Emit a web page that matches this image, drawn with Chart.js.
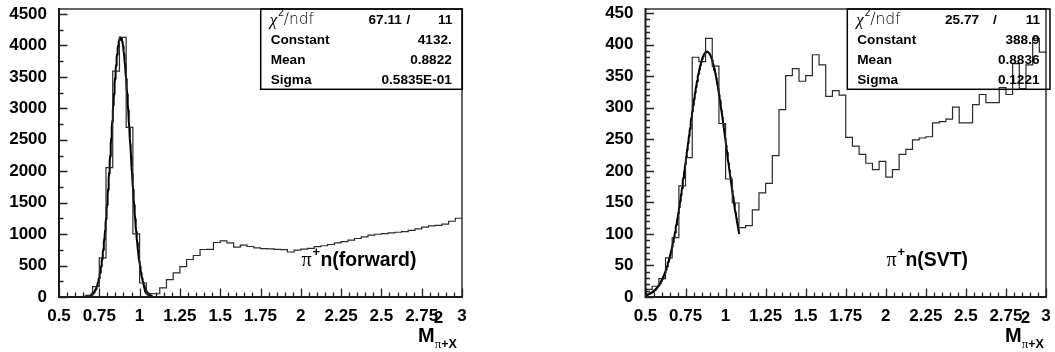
<!DOCTYPE html>
<html>
<head>
<meta charset="utf-8">
<script src="https://cdn.jsdelivr.net/npm/chart.js@4.4.1/dist/chart.umd.min.js"></script>
<style>
  html, body { margin: 0; padding: 0; background: #fff; }
  #wrap { position: relative; width: 1055px; height: 352px; }
  canvas { position: absolute; top: 0; }
</style>
</head>
<body>
<div id="wrap">
  <canvas id="cForward" width="527" height="352" style="left:0;width:527px;height:352px"></canvas>
  <canvas id="cSVT" width="528" height="352" style="left:527px;width:528px;height:352px"></canvas>
</div>
<script>
// Histogram binning (missing mass squared, GeV^2)
const xMin = 0.5, xMax = 3.0, nBins = 60;
const xTickValues = [0.5, 0.75, 1, 1.25, 1.5, 1.75, 2, 2.25, 2.5, 2.75, 3];
const yTicksForward = [0, 500, 1000, 1500, 2000, 2500, 3000, 3500, 4000, 4500];
const yTicksSVT = [0, 50, 100, 150, 200, 250, 300, 350, 400, 450];

// Counts per bin, pi+ n (forward)
const countsForward = [
  0, 0, 0, 3, 25, 165, 622, 2059, 3591, 4130,
  2697, 1005, 223, 55, 52, 144, 277, 383, 484, 596,
  660, 755, 758, 867, 894, 862, 793, 825, 803, 782,
  770, 765, 758, 752, 716, 745, 760, 772, 800, 815,
  835, 860, 880, 905, 930, 955, 985, 998, 1008, 1020,
  1030, 1040, 1058, 1082, 1112, 1130, 1140, 1160, 1205, 1252
];

// Counts per bin, pi+ n (SVT)
const countsSVT = [
  12, 17, 29, 62, 94, 176, 221, 380, 373, 410,
  366, 275, 187, 149, 110, 113, 138, 165, 180, 224,
  297, 351, 362, 342, 351, 384, 368, 318, 327, 320,
  253, 239, 226, 212, 202, 215, 190, 202, 226, 234,
  249, 252, 254, 276, 278, 282, 301, 276, 276, 305,
  321, 308, 308, 332, 321, 370, 330, 368, 410, 388
];

// Gaussian fit results: [chi2, ndf, constant, mean, sigma]
const fitForward = [67.11, 11, 4132, 0.8822, 0.05835];
const fitSVT = [25.77, 11, 388.9, 0.8836, 0.1221];
// Fit ranges
const fitRangeForward = [0.65, 1.08];
const fitRangeSVT = [0.5, 1.085];

// Stats box text
const statsForward = [['Constant', '4132.'], ['Mean', '0.8822'], ['Sigma', '0.5835E-01']];
const statsSVT = [['Constant', '388.9'], ['Mean', '0.8836'], ['Sigma', '0.1221']];

const SANS = '"Liberation Sans", Arial, Helvetica, sans-serif';
const SERIF = '"Liberation Serif", "DejaVu Serif", serif';

function histPoints(counts) {
  const w = (xMax - xMin) / nBins;
  const pts = counts.map((c, i) => ({ x: xMin + i * w, y: c }));
  pts.push({ x: xMax, y: counts[counts.length - 1] });
  return pts;
}

function gaussPoints(fit, range) {
  const [, , c, m, s] = fit;
  const pts = [];
  const n = 200;
  for (let k = 0; k <= n; k++) {
    const x = range[0] + (range[1] - range[0]) * k / n;
    pts.push({ x, y: c * Math.exp(-0.5 * ((x - m) / s) ** 2) });
  }
  return pts;
}

function makePanel(id, o) {
  const framePlugin = {
    id: 'rootFrame',
    afterDraw(chart) {
      const ctx = chart.ctx;
      const a = chart.chartArea;
      const xs = chart.scales.x, ys = chart.scales.y;
      ctx.save();
      // frame
      ctx.strokeStyle = '#333';
      ctx.lineWidth = 1.5;
      ctx.beginPath();
      ctx.moveTo(a.left, a.top); ctx.lineTo(a.right, a.top); ctx.lineTo(a.right, a.bottom);
      ctx.stroke();
      ctx.strokeStyle = '#1a1a1a';
      ctx.lineWidth = 2;
      ctx.beginPath();
      ctx.moveTo(a.left, a.top - 1); ctx.lineTo(a.left, a.bottom); ctx.lineTo(a.right + 1, a.bottom);
      ctx.stroke();

      // x ticks pointing up into the frame
      ctx.lineWidth = 1.3;
      ctx.strokeStyle = '#222';
      ctx.beginPath();
      for (let v = xMin; v <= xMax + 1e-9; v += 0.05) {
        const major = Math.abs(v / 0.25 - Math.round(v / 0.25)) < 1e-6;
        const px = Math.round(xs.getPixelForValue(v)) + 0.5;
        ctx.moveTo(px, a.bottom);
        ctx.lineTo(px, a.bottom - (major ? 8.5 : 4.5));
      }
      // y ticks pointing right
      for (let v = 0; v <= ys.max + 1e-9; v += o.yMinor) {
        const major = Math.abs(v / o.yMajor - Math.round(v / o.yMajor)) < 1e-6;
        const py = Math.round(ys.getPixelForValue(v)) + 0.5;
        ctx.moveTo(a.left, py);
        ctx.lineTo(a.left + (major ? 8.5 : 4.5), py);
      }
      ctx.stroke();

      // stats box
      const bx0 = o.box[0], bx1 = o.box[1], by0 = a.top, by1 = o.box[2];
      ctx.strokeStyle = '#000';
      ctx.lineWidth = 1.5;
      ctx.strokeRect(bx0, by0, bx1 - bx0, by1 - by0);

      ctx.fillStyle = '#000';
      ctx.textBaseline = 'alphabetic';
      const rowBase = [24, 44, 64, 84];
      // chi2/ndf row
      ctx.textAlign = 'left';
      ctx.font = 'italic 17px ' + SERIF;
      ctx.fillText('\u03c7', bx0 + 9, rowBase[0] + 1);
      ctx.font = '10px ' + SANS;
      ctx.fillText('2', bx0 + 17.5, rowBase[0] - 8);
      ctx.font = '300 15.5px "DejaVu Sans", ' + SANS;
      ctx.fillText('/ndf', bx0 + 23, rowBase[0]);
      ctx.font = 'bold 13.6px ' + SANS;
      ctx.textAlign = 'right';
      ctx.fillText(o.fit[0].toFixed(2), bx1 - o.chiPos[0], rowBase[0]);
      ctx.textAlign = 'center';
      ctx.fillText('/', bx1 - o.chiPos[1], rowBase[0]);
      ctx.textAlign = 'right';
      ctx.fillText(String(o.fit[1]), bx1 - 10, rowBase[0]);
      o.stats.forEach((r, i) => {
        ctx.textAlign = 'left';
        ctx.fillText(r[0], bx0 + 10, rowBase[i + 1]);
        ctx.textAlign = 'right';
        ctx.fillText(r[1], bx1 - 10.5, rowBase[i + 1]);
      });

      // channel label
      ctx.textAlign = 'left';
      let lx = o.label[0];
      const lb = 266;
      ctx.font = '20px ' + SERIF;
      ctx.fillText('\u03c0', lx, lb);
      ctx.font = 'bold 13px ' + SANS;
      ctx.fillText('+', lx + 11, lb - 10);
      ctx.font = 'bold 19.4px ' + SANS;
      ctx.fillText(o.label[1], lx + 19, lb);

      // axis title M^2_{pi+X}
      const mx = a.right - o.titleDx;
      ctx.font = 'bold 20px ' + SANS;
      ctx.fillText('M', mx, 342);
      const mw = ctx.measureText('M').width;
      ctx.font = 'bold 17px ' + SANS;
      ctx.fillText('2', mx + mw - 1, 323);
      ctx.font = '13px ' + SERIF;
      ctx.fillText('\u03c0', mx + mw, 348);
      const pw = ctx.measureText('\u03c0').width;
      ctx.font = 'bold 12.5px ' + SANS;
      ctx.fillText('+X', mx + mw + pw, 348);
      ctx.restore();
    }
  };

  return new Chart(document.getElementById(id), {
    type: 'line',
    data: {
      datasets: [
        {
          data: histPoints(o.counts),
          stepped: true,
          borderColor: '#2a2a2a',
          borderWidth: 1.2,
          pointRadius: 0,
          fill: false
        },
        {
          data: gaussPoints(o.fit, o.range),
          borderColor: '#000',
          borderWidth: 2,
          pointRadius: 0,
          fill: false,
          tension: 0
        }
      ]
    },
    options: {
      responsive: false,
      animation: false,
      events: [],
      layout: { autoPadding: false, padding: { top: 9, right: o.padRight, left: 0, bottom: 0 } },
      plugins: { legend: { display: false }, tooltip: { enabled: false } },
      scales: {
        x: {
          type: 'linear',
          min: xMin,
          max: xMax,
          grid: { display: false, drawTicks: false },
          border: { display: false },
          afterBuildTicks: s => { s.ticks = xTickValues.map(v => ({ value: v })); },
          afterFit: s => { s.height = 55; s.paddingLeft = 0; s.paddingRight = 0; },
          ticks: {
            padding: 9,
            color: '#000',
            maxRotation: 0,
            autoSkip: false,
            font: { family: SANS, size: 17, weight: 'bold' },
            callback: v => String(v)
          }
        },
        y: {
          type: 'linear',
          min: 0,
          max: o.yMax,
          grid: { display: false, drawTicks: false },
          border: { display: false },
          afterBuildTicks: s => { s.ticks = o.yTicks.map(v => ({ value: v })); },
          afterFit: s => { s.width = o.yWidth; s.paddingTop = 0; s.paddingBottom = 0; },
          ticks: {
            padding: 12,
            color: '#000',
            autoSkip: false,
            font: { family: SANS, size: 17, weight: 'bold' },
            callback: v => String(v)
          }
        }
      }
    },
    plugins: [framePlugin]
  });
}

makePanel('cForward', {
  counts: countsForward, fit: fitForward, range: fitRangeForward, stats: statsForward,
  yTicks: yTicksForward, yMax: 4580, yMajor: 500, yMinor: 250,
  yWidth: 59, padRight: 65,
  box: [260.7, 462.3, 89.3], chiPos: [60.5, 54],
  label: [301.5, 'n(forward)'], titleDx: 44
});

makePanel('cSVT', {
  counts: countsSVT, fit: fitSVT, range: fitRangeSVT, stats: statsSVT,
  yTicks: yTicksSVT, yMax: 456.5, yMajor: 50, yMinor: 10,
  yWidth: 118.5, padRight: 9,
  box: [320.3, 523, 89.3], chiPos: [71, 55],
  label: [359.5, 'n(SVT)'], titleDx: 41
});
</script>
</body>
</html>
